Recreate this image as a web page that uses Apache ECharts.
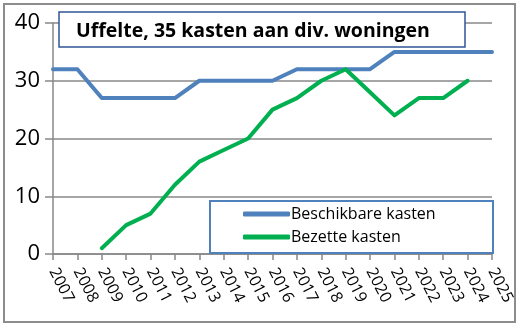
<!DOCTYPE html>
<html>
<head>
<meta charset="utf-8">
<script src="https://cdn.jsdelivr.net/npm/echarts@6/dist/echarts.min.js"></script>
<style>
  html, body { margin: 0; padding: 0; background: #ffffff; }
  #chart { width: 523px; height: 329px; }
</style>
</head>
<body>
<div id="chart"></div>
<script>
// Jaren op de x-as
const years = ['2007','2008','2009','2010','2011','2012','2013','2014','2015','2016',
               '2017','2018','2019','2020','2021','2022','2023','2024','2025'];
// Aantal beschikbare kasten per jaar
const beschikbaar = [32,32,27,27,27,27,30,30,30,30,32,32,32,32,35,35,35,35,35];
// Aantal bezette kasten per jaar (geen telling in 2007, 2008 en 2025)
const bezet = [null,null,1,5,7,12,16,18,20,25,27,30,32,28,24,27,27,30,null];

const chartTitle = 'Uffelte, 35 kasten aan div. woningen';
const seriesNames = ['Beschikbare kasten', 'Bezette kasten'];

const FONT = 'Open Sans';
const chart = echarts.init(document.getElementById('chart'), null, { renderer: 'canvas' });

chart.setOption({
  backgroundColor: '#ffffff',
  animation: false,
  textStyle: { fontFamily: FONT },
  grid: { left: 53, right: 31, top: 23, bottom: 75 },
  graphic: [
    // rand om het hele diagram
    { type: 'rect', shape: { x: 4, y: 4, width: 511, height: 318 },
      style: { fill: 'none', stroke: '#8c8c8c', lineWidth: 2 }, z: 0 },
    // kader achter de titel
    { type: 'rect', shape: { x: 59, y: 12, width: 406, height: 35 },
      style: { fill: '#ffffff', stroke: '#2f5597', lineWidth: 1.5 }, z: 10 },
    // kader achter de legenda
    { type: 'rect', shape: { x: 210, y: 201, width: 283, height: 52 },
      style: { fill: '#ffffff', stroke: '#4f81bd', lineWidth: 2 }, z: 10 }
  ],
  title: {
    text: chartTitle,
    left: 76, top: 21, padding: 0, z: 12,
    textStyle: { fontFamily: FONT, fontWeight: 'bold', fontSize: 19.5, color: '#000000' }
  },
  legend: {
    data: seriesNames,
    orient: 'vertical',
    left: 243, top: 206, padding: 0, z: 12,
    itemGap: 7,
    itemWidth: 47, itemHeight: 5,
    icon: 'roundRect',
    textStyle: { fontFamily: FONT, fontSize: 16, color: '#000000', padding: [0, 0, 0, -4] }
  },
  xAxis: {
    type: 'category',
    data: years,
    boundaryGap: false,
    axisLine: { lineStyle: { color: '#888888', width: 1.5 } },
    axisTick: { show: true, alignWithLabel: true, length: 6, lineStyle: { color: '#888888', width: 1.5 } },
    axisLabel: { rotate: -63, fontSize: 16, color: '#000000', margin: 15, interval: 0, fontFamily: FONT },
    splitLine: { show: false }
  },
  yAxis: {
    type: 'value',
    min: 0, max: 40, interval: 10,
    axisLine: { show: true, lineStyle: { color: '#888888', width: 1.5 } },
    axisTick: { show: true, length: 8, lineStyle: { color: '#888888', width: 1.5 } },
    axisLabel: { fontSize: 22, color: '#000000', margin: 13, fontFamily: FONT },
    splitLine: { lineStyle: { color: '#888888', width: 1.5 } }
  },
  series: [
    {
      name: seriesNames[0], type: 'line', data: beschikbaar,
      symbol: 'none', lineStyle: { color: '#4f81bd', width: 4, join: 'round', cap: 'round' },
      itemStyle: { color: '#4f81bd' }, z: 3
    },
    {
      name: seriesNames[1], type: 'line', data: bezet,
      symbol: 'none', lineStyle: { color: '#00b050', width: 4, join: 'round', cap: 'round' },
      itemStyle: { color: '#00b050' }, z: 4
    }
  ]
});
</script>
</body>
</html>
